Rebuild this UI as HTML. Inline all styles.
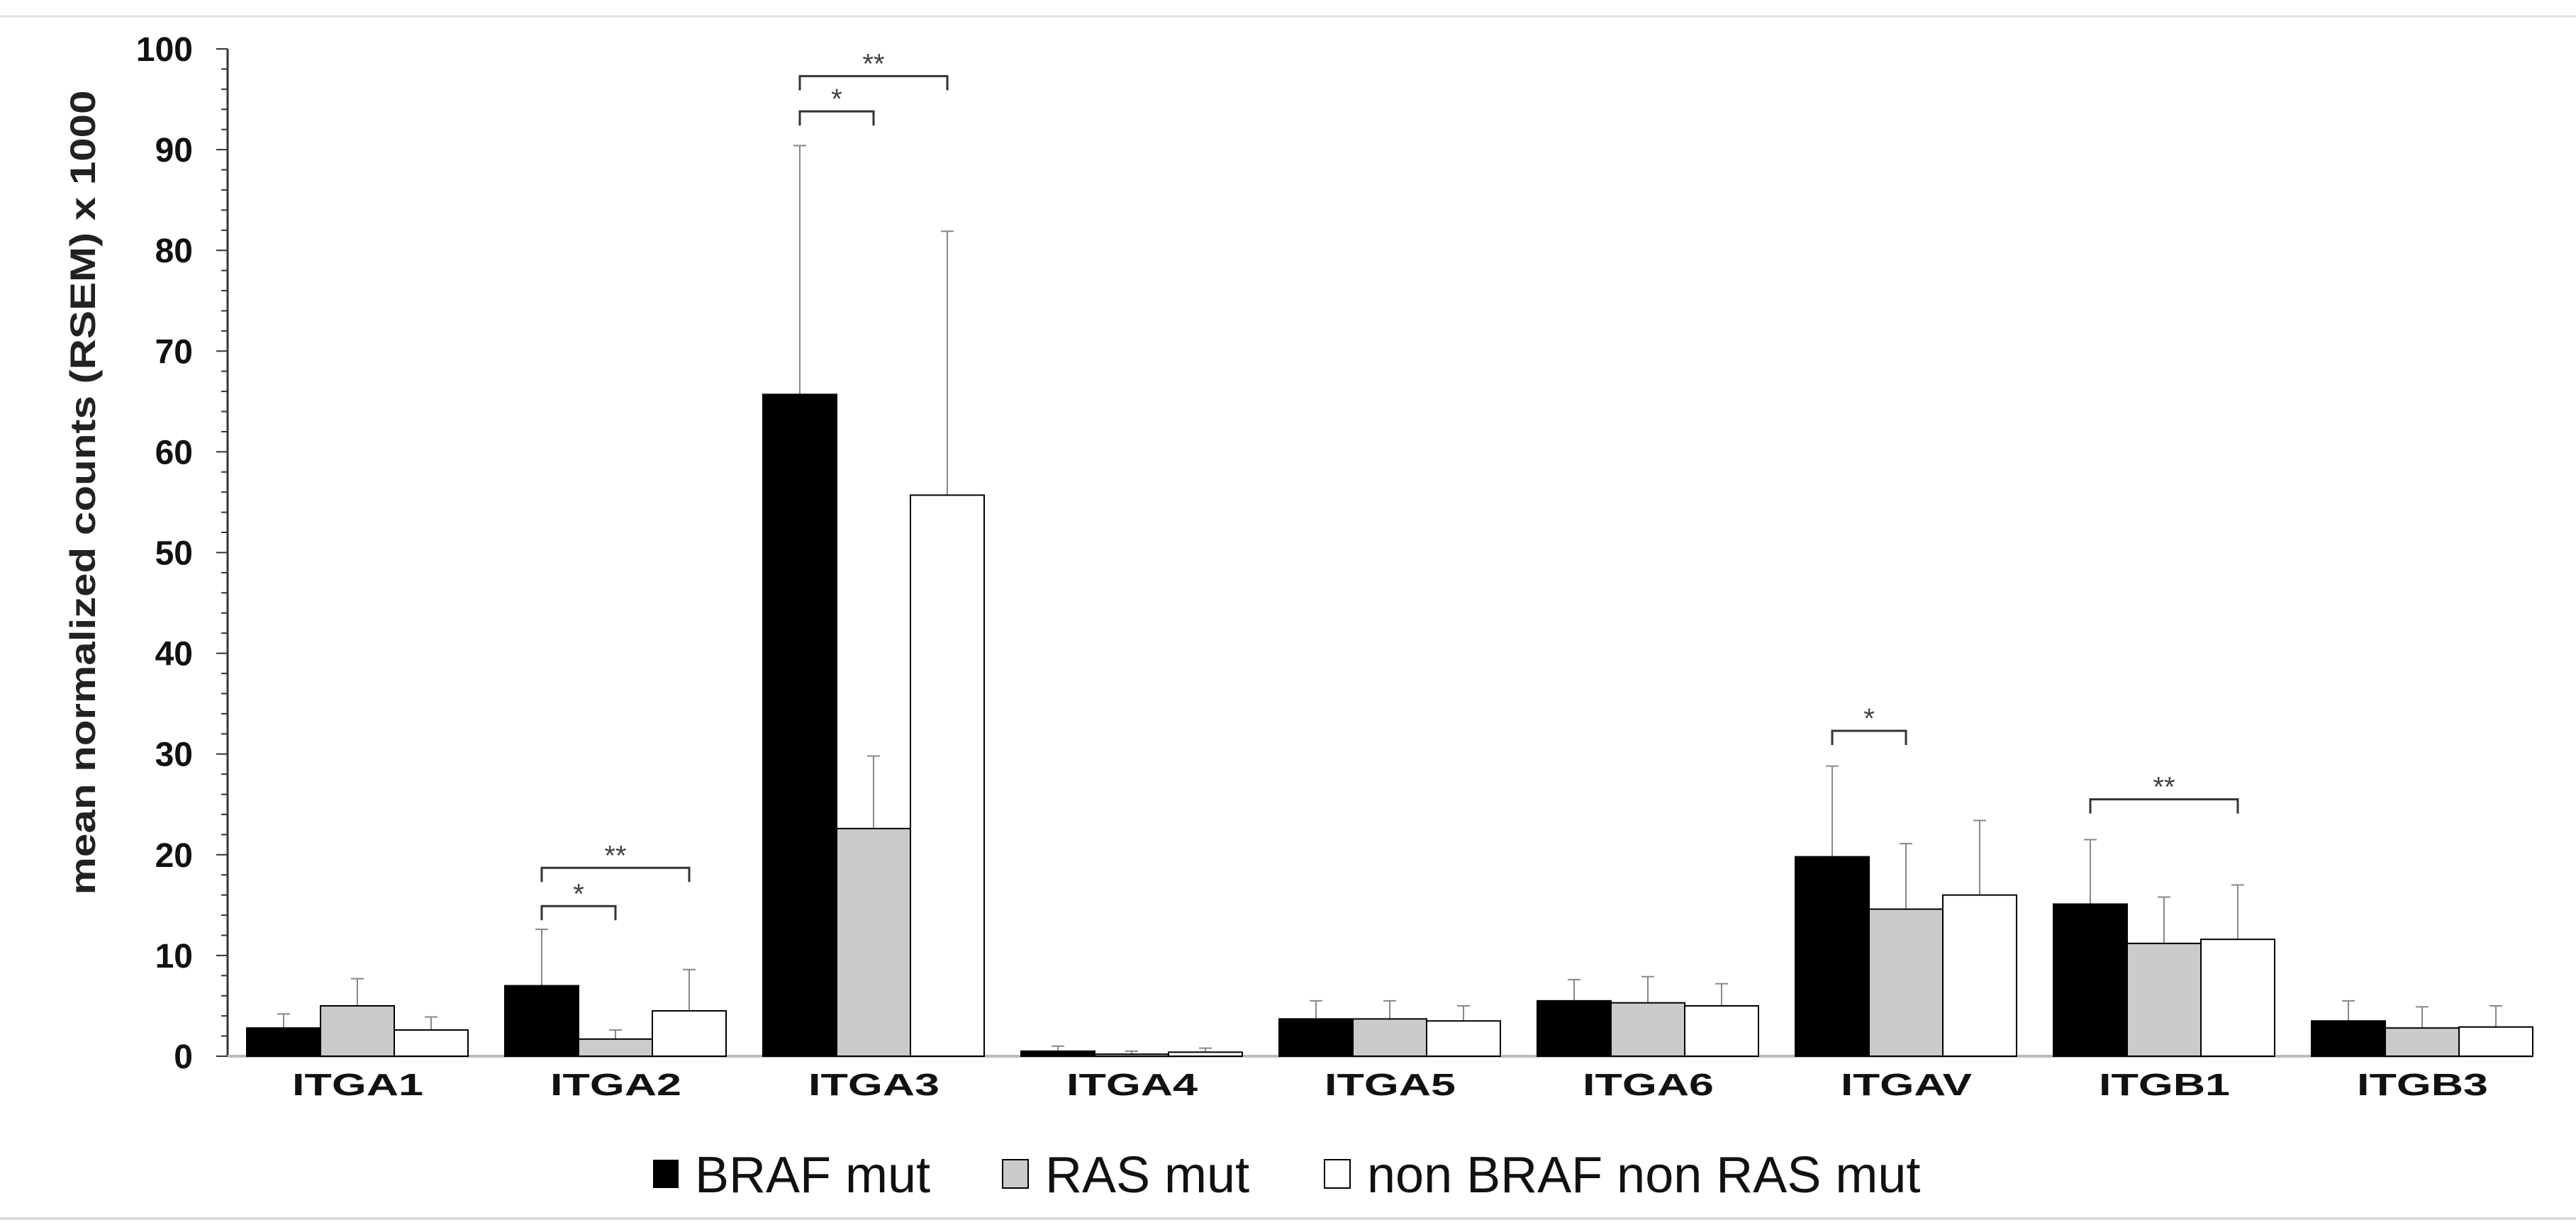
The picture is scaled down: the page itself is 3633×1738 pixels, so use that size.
<!DOCTYPE html>
<html><head><meta charset="utf-8"><style>
html,body{margin:0;padding:0;background:#fff;}
svg{display:block;font-family:"Liberation Sans",Arial,sans-serif;}
</style></head><body>
<svg id="chart" width="3633" height="1738" viewBox="0 0 3633 1738" xmlns="http://www.w3.org/2000/svg">
<line x1="0" y1="23" x2="3633" y2="23" stroke="#e4e4e4" stroke-width="3"/>
<line x1="0" y1="1719" x2="3633" y2="1719" stroke="#dcdcdc" stroke-width="4"/>
<text transform="translate(134,695) rotate(-90)" text-anchor="middle" font-size="50" font-weight="bold" fill="#222" textLength="1135" lengthAdjust="spacingAndGlyphs">mean normalized counts (RSEM) x 1000</text>
<g id="axes"></g><g id="bars"></g><g id="sig"></g>
<g>
<rect x="921" y="1636" width="36" height="40" fill="#000"/>
<text x="980" y="1682" font-size="72" fill="#111">BRAF mut</text>
<rect x="1414" y="1636" width="36" height="40" fill="#cbcbcb" stroke="#000" stroke-width="2"/>
<text x="1474" y="1682" font-size="72" fill="#111">RAS mut</text>
<rect x="1868" y="1636" width="36" height="40" fill="#fff" stroke="#000" stroke-width="2"/>
<text x="1928" y="1682" font-size="72" fill="#111">non BRAF non RAS mut</text>
</g>
</svg>
<script>
const categories = ["ITGA1","ITGA2","ITGA3","ITGA4","ITGA5","ITGA6","ITGAV","ITGB1","ITGB3"];
const brafMeans = [2.8,7.0,65.7,0.5,3.7,5.5,19.8,15.1,3.5];
const brafErr = [4.2,12.6,90.4,1.0,5.5,7.6,28.8,21.5,5.5];
const rasMeans = [5.0,1.7,22.6,0.2,3.7,5.3,14.6,11.2,2.8];
const rasErr = [7.7,2.6,29.8,0.5,5.5,7.9,21.1,15.8,4.9];
const otherMeans = [2.6,4.5,55.7,0.4,3.5,5.0,16.0,11.6,2.9];
const otherErr = [3.9,8.6,81.9,0.8,5.0,7.2,23.4,17.0,5.0];
const yTicks = [0,10,20,30,40,50,60,70,80,90,100];
const sigCats = [1,1,2,2,6,7];
const sigFrom = [0,0,0,0,0,0];
const sigTo = [1,2,1,2,1,2];
const sigLevel = [14.9,18.7,93.8,97.3,32.3,25.5];
const sigLabels = ["*","**","*","**","*","**"];

const NS="http://www.w3.org/2000/svg";
const X0=321, Y0=1490, Y100=69, PITCH=364, FIRST=348, BW=104;
const y=v=>Y0-(v/100)*(Y0-Y100);
const xBar=(c,s)=>FIRST+c*PITCH+s*BW;
const xMid=(c,s)=>xBar(c,s)+BW/2;
function mk(tag,attrs,parent){const e=document.createElementNS(NS,tag);for(const k in attrs)e.setAttribute(k,attrs[k]);parent.appendChild(e);return e;}

const axes=document.getElementById('axes');
let yl=mk('line',{x1:X0,y1:Y100,x2:X0,y2:Y0,stroke:'#333','stroke-width':3},axes);


let xl=mk('line',{x1:X0,y1:Y0,x2:3572,y2:Y0,stroke:'#bbb','stroke-width':4},axes);


for(let v=0;v<=100;v+=2){
  const major=v%10===0;
  let t=mk('line',{x1:X0-(major?16:9),y1:y(v),x2:X0,y2:y(v),stroke:'#333','stroke-width':2},axes);
  
  
}
yTicks.forEach(v=>{
  let t=mk('text',{x:272,y:y(v)+17,'text-anchor':'end','font-size':48,'font-weight':'bold',fill:'#111'},axes);
  t.textContent=v;
  
  
});
categories.forEach((c,i)=>{
  let t=mk('text',{x:xMid(i,1)-92,y:1545,'font-size':44,'font-weight':'bold',fill:'#111',textLength:185,lengthAdjust:'spacingAndGlyphs'},axes);
  t.textContent=c;
  
  
});

const bars=document.getElementById('bars');
const series=[[brafMeans,brafErr,'#000','braf'],[rasMeans,rasErr,'#cbcbcb','ras'],[otherMeans,otherErr,'#fff','other']];
categories.forEach((c,i)=>{
  series.forEach((s,si)=>{
    const m=s[0][i], e=s[1][i], cx=xMid(i,si);
    let el=mk('line',{x1:cx,y1:y(e),x2:cx,y2:y(m),stroke:'#888','stroke-width':2},bars);
    
    
    let cap=mk('line',{x1:cx-9,y1:y(e),x2:cx+9,y2:y(e),stroke:'#888','stroke-width':2},bars);
    
    
    let r=mk('rect',{x:xBar(i,si),y:y(m),width:BW,height:Y0-y(m),fill:s[2],stroke:'#000','stroke-width':2},bars);
    
    
  });
});

const sig=document.getElementById('sig');
sigCats.forEach((c,k)=>{
  const xa=xMid(c,sigFrom[k]), xb=xMid(c,sigTo[k]), yy=y(sigLevel[k]);
  let p=mk('path',{d:`M${xa},${yy+20} V${yy} H${xb} V${yy+20}`,fill:'none',stroke:'#333','stroke-width':3},sig);
  
  
  let t=mk('text',{x:(xa+xb)/2,y:yy-4,'text-anchor':'middle','font-size':40,fill:'#444'},sig);
  t.textContent=sigLabels[k];
  
  
});
</script>
</body></html>
